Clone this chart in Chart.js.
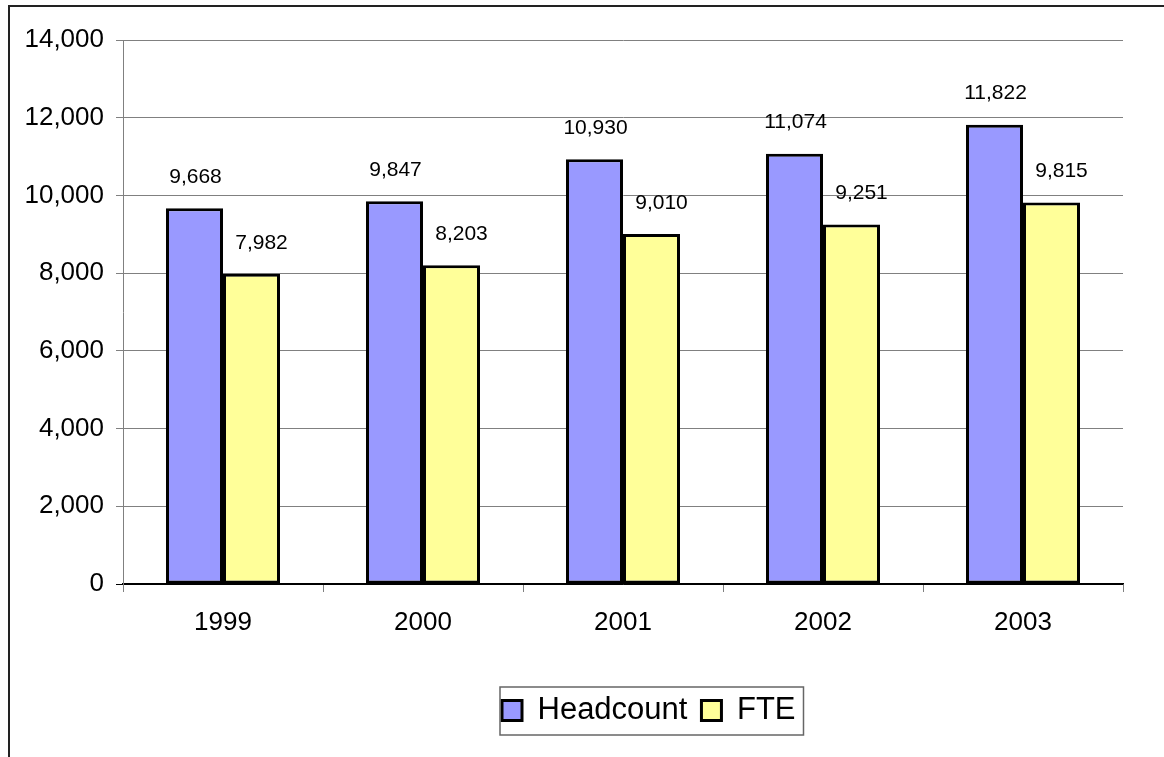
<!DOCTYPE html>
<html>
<head>
<meta charset="utf-8">
<script src="https://cdn.jsdelivr.net/npm/chart.js@4"></script>
<style>
  html, body { margin: 0; padding: 0; background: #fff; overflow: hidden; }
  #wrap { position: absolute; left: 0; top: 0; width: 1164px; height: 757px; }
  #frame { position: absolute; left: 8px; top: 5px; width: 1300px; height: 900px;
           border-top: 2px solid #222; border-left: 2px solid #222; pointer-events: none; }
</style>
</head>
<body>
<div id="wrap"><canvas id="chart"></canvas></div>
<div id="frame"></div>
<script>
const years = ['1999', '2000', '2001', '2002', '2003'];
const headcount = [9668, 9847, 10930, 11074, 11822];
const fte = [7982, 8203, 9010, 9251, 9815];
const yTicks = [0, 2000, 4000, 6000, 8000, 10000, 12000, 14000];

const FONT = '"Liberation Sans", Arial, sans-serif';
const LEGEND_PAD = 14;

// value labels above each bar (FTE labels sit a little right of the bar centre)
const valueLabels = {
    id: 'valueLabels',
    afterDatasetsDraw(chart) {
        const ctx = chart.ctx;
        ctx.save();
        ctx.font = '21px ' + FONT;
        ctx.fillStyle = '#000';
        ctx.textAlign = 'center';
        ctx.textBaseline = 'middle';
        chart.data.datasets.forEach((ds, i) => {
            const shift = i === 0 ? 1 : 10;
            chart.getDatasetMeta(i).data.forEach((bar, j) => {
                ctx.fillText(ds.data[j].toLocaleString('en-US'), bar.x + shift, bar.y - 31);
            });
        });
        ctx.restore();
    }
};

// move the legend to where the original sits and draw a box round it
const legendBox = {
    id: 'legendBox',
    afterUpdate(chart) {
        const lg = chart.legend;
        if (!lg || !lg.legendHitBoxes || !lg.legendHitBoxes.length) return;
        const dx = 502 - lg.legendHitBoxes[0].left;
        lg.left += dx;
        lg.right += dx;
        lg.adjustHitBoxes();
    },
    afterDraw(chart) {
        const lg = chart.legend;
        const boxes = lg.legendHitBoxes;
        if (!boxes || !boxes.length) return;
        const first = boxes[0], last = boxes[boxes.length - 1];
        // adjustHitBoxes adds to top each call, so take the row top from the legend itself
        const itemTop = lg.top + LEGEND_PAD;
        const x0 = first.left - 2;
        const x1 = last.left + last.width + 8;
        const y0 = itemTop - 8;
        const y1 = itemTop + first.height + 9;
        const ctx = chart.ctx;
        ctx.save();
        ctx.strokeStyle = '#666';
        ctx.lineWidth = 1.5;
        ctx.strokeRect(x0, y0, x1 - x0, y1 - y0);
        ctx.restore();
    }
};

new Chart(document.getElementById('chart'), {
    type: 'bar',
    data: {
        labels: years,
        datasets: [{
            label: 'Headcount',
            data: headcount,
            backgroundColor: '#9999FF',
            borderColor: '#000',
            borderWidth: 3,
            borderSkipped: false
        }, {
            label: 'FTE',
            data: fte,
            backgroundColor: '#FFFF99',
            borderColor: '#000',
            borderWidth: 3,
            borderSkipped: false
        }]
    },
    options: {
        responsive: true,
        maintainAspectRatio: false,
        animation: false,
        layout: { padding: { top: 40, right: 41, bottom: 21, left: 0 } },
        datasets: { bar: { categoryPercentage: 0.57, barPercentage: 1.0 } },
        scales: {
            x: {
                grid: { offset: true, drawOnChartArea: false, drawTicks: true, tickLength: 8, color: '#808080' },
                border: { color: '#000', width: 1.5 },
                ticks: { color: '#000', font: { family: FONT, size: 26 }, padding: 15 },
                afterFit(scale) { scale.height = 97; }
            },
            y: {
                min: 0,
                max: 14000,
                afterBuildTicks(scale) { scale.ticks = yTicks.map(v => ({ value: v })); },
                grid: {
                    color: c => c.tick && c.tick.value === 0 ? '#000' : '#808080',
                    lineWidth: 1,
                    tickLength: 7
                },
                border: { color: '#808080', width: 1 },
                ticks: {
                    color: '#000',
                    font: { family: FONT, size: 26 },
                    padding: 12,
                    callback: v => v.toLocaleString('en-US')
                },
                afterFit(scale) { scale.width = 123; }
            }
        },
        plugins: {
            legend: {
                position: 'bottom',
                labels: {
                    color: '#000',
                    font: { family: FONT, size: 31 },
                    boxWidth: 20,
                    boxHeight: 20,
                    padding: LEGEND_PAD
                }
            },
            tooltip: { enabled: false }
        }
    },
    plugins: [valueLabels, legendBox]
});
</script>
</body>
</html>
